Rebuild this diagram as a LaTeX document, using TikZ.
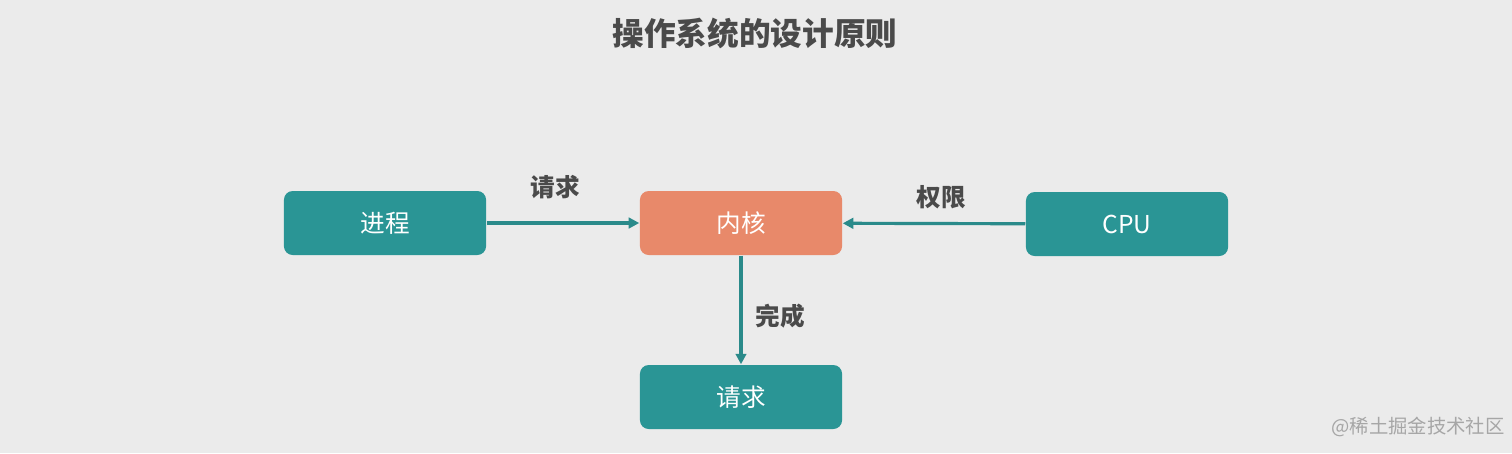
\documentclass[tikz,border=0pt]{standalone}
\usepackage{fontspec}
\setmainfont{Noto Sans CJK SC}
\usetikzlibrary{arrows.meta}
\definecolor{bg}{HTML}{EBEBEB}
\definecolor{teal}{HTML}{2A9595}
\definecolor{orng}{HTML}{E8896A}
\definecolor{txt}{HTML}{4A4A4A}
\definecolor{arr}{HTML}{2A8A8A}
\tikzset{
 box/.style={rounded corners=2.5pt,minimum width=2.02cm,minimum height=0.64cm,text=white,font=\fontsize{7pt}{8pt}\selectfont,drop shadow/.style={}},
 lbl/.style={text=txt,font=\fontsize{7pt}{8pt}\selectfont\bfseries},
 conn/.style={draw=arr,line width=0.9pt,-{Triangle[length=3pt,width=3pt]}}
}
\begin{document}
\begin{tikzpicture}[x=0.01cm,y=-0.01cm]
\fill[bg] (0,0) rectangle (1512,453);
\useasboundingbox (0,0) rectangle (1512,453);
\node[text=txt,font=\fontsize{9pt}{10pt}\selectfont\bfseries] (title) at (755,33) {操作系统的设计原则};
\node[box,fill=teal] (p) at (385,223) {进程};
\node[box,fill=orng] (k) at (741,223) {内核};
\node[box,fill=teal] (c) at (1127,224) {CPU};
\node[box,fill=teal] (r) at (741,397) {请求};
\draw[conn] (p) -- (k);
\draw[conn] (c) -- (k);
\draw[conn] (k) -- (r);
\node[lbl] (l1) at (555,187) {请求};
\node[lbl] (l2) at (941,197) {权限};
\node[lbl] (l3) at (780,316) {完成};
\node[text=gray!70,font=\fontsize{5.5pt}{6pt}\selectfont] (wm) at (1418,427) {@稀土掘金技术社区};
\end{tikzpicture}
\end{document}
